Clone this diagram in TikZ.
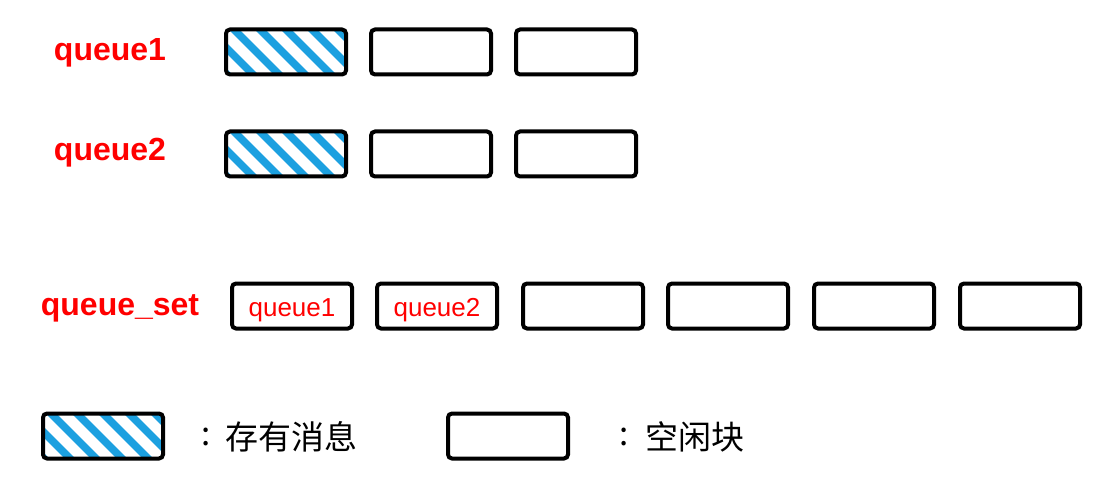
\documentclass[tikz,border=0pt]{standalone}
\usepackage{fontspec}
\setmainfont{Liberation Sans}
\newfontfamily\cjk{Noto Sans CJK SC}
\definecolor{hatchblue}{RGB}{28,160,224}
\definecolor{lblred}{RGB}{255,0,0}
\begin{document}
\begin{tikzpicture}[x=1pt,y=-1pt,
  blk/.style={draw=black, line width=4pt, rounded corners=4pt, minimum width=#1, minimum height=45pt, inner sep=0pt},
  blk/.default=120pt,
  full/.style={blk, path picture={
     \foreach \i in {-78,-52,...,140} {
       \draw[hatchblue, line width=7.5pt, line cap=round]
         ([xshift=\i pt, yshift=8pt]path picture bounding box.north west) -- ++(62pt,-62pt);
     }}},
  qlabel/.style={text=lblred, font=\fontsize{32}{34}\selectfont\bfseries, inner sep=0pt},
  inlabel/.style={text=lblred, font=\fontsize{26}{28}\selectfont, text height=23pt, text depth=2pt},
  legtext/.style={font=\cjk\fontsize{33}{35}\selectfont, inner sep=0pt, anchor=west}
]
\useasboundingbox (0,0) rectangle (1110,489);

% queue1
\node[qlabel] (q1) at (110,53) {queue1};
\node[full] (a1) at (286,52) {};
\node[blk]  (a2) at (431,52) {};
\node[blk]  (a3) at (576,52) {};

% queue2
\node[qlabel] (q2) at (110,153) {queue2};
\node[full] (b1) at (286,154) {};
\node[blk]  (b2) at (431,154) {};
\node[blk]  (b3) at (576,154) {};

% queue_set
\node[qlabel] (qs) at (120,308) {queue\_set};
\node[blk, inlabel] (s1) at (292,306) {queue1};
\node[blk, inlabel] (s2) at (437,306) {queue2};
\node[blk] (s3) at (583,306) {};
\node[blk] (s4) at (728,306) {};
\node[blk] (s5) at (874,306) {};
\node[blk] (s6) at (1020,306) {};

% legend
\node[full] (l1) at (103,436) {};
\node[font=\cjk\fontsize{33}{35}\selectfont, inner sep=0pt] (c1) at (206,437) {:};
\node[legtext] (t1) at (225,437) {存有消息};
\node[blk] (l2) at (508,436) {};
\node[font=\cjk\fontsize{33}{35}\selectfont, inner sep=0pt] (c2) at (624,437) {:};
\node[legtext] (t2) at (645,437) {空闲块};
\end{tikzpicture}
\end{document}
